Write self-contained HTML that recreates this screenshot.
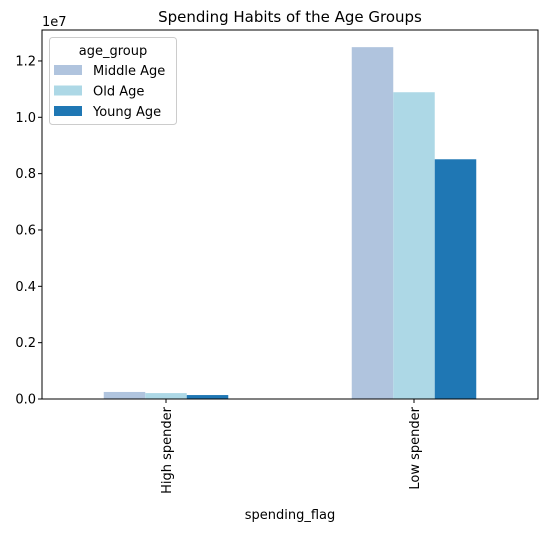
<!DOCTYPE html>
<html><head><meta charset="utf-8"><style>
body{margin:0;background:#fff;font-family:"Liberation Sans","DejaVu Sans",sans-serif;}
svg text{font-family:"DejaVu Sans","Liberation Sans",sans-serif;}
</style></head><body>
<svg id="chart" width="547" height="531" xmlns="http://www.w3.org/2000/svg">
<rect width="547" height="531" fill="#fff"/>
<g id="plot"></g>
</svg>
<script>
const categories=["High spender","Low spender"];
const seriesNames=["Middle Age","Old Age","Young Age"];
const middleAge=[250000,12490000];
const oldAge=[210000,10890000];
const youngAge=[140000,8510000];
const yTicks=[0,0.2,0.4,0.6,0.8,1.0,1.2];
const yTickLabels=["0.0","0.2","0.4","0.6","0.8","1.0","1.2"];
const colors=["#b0c4de","#add8e6","#1f77b4"];
const L=42,R=538,T=30,B=399;
const y=v=>B-(v/1e7)*281.7;
const groupW=(R-L)/categories.length;
const x=i=>L+groupW*(i+0.5);
const barW=41.5;
const ns="http://www.w3.org/2000/svg";
const g=document.getElementById('plot');
function mk(tag,attrs,text){const e=document.createElementNS(ns,tag);for(const k in attrs)e.setAttribute(k,attrs[k]);if(text!==undefined)e.textContent=text;g.appendChild(e);return e;}
const series=[middleAge,oldAge,youngAge];
series.forEach((s,si)=>{s.forEach((v,ci)=>{
 const r=mk('rect',{x:x(ci)+(si-1.5)*barW,y:y(v),width:barW,height:B-y(v),fill:colors[si]});
 
 
});});
const fr=mk('rect',{x:L,y:T,width:R-L,height:B-T,fill:'none',stroke:'#000','stroke-width':1});


yTicks.forEach((t,i)=>{
 mk('line',{x1:L-4,x2:L,y1:y(t*1e7),y2:y(t*1e7),stroke:'#000'});
 const tx=mk('text',{x:L-6,y:y(t*1e7)+4.5,'text-anchor':'end','font-size':13},yTickLabels[i]);
 
 
});
categories.forEach((c,i)=>{
 mk('line',{x1:x(i),x2:x(i),y1:B,y2:B+4,stroke:'#000'});
 const tx=mk('text',{transform:`translate(${x(i)+5},${B+8}) rotate(-90)`,'text-anchor':'end','font-size':13},c);
 
 
});
let e=mk('text',{x:42,y:26,'font-size':13},'1e7');


e=mk('text',{x:(L+R)/2,y:519,'text-anchor':'middle','font-size':13},'spending_flag');


e=mk('text',{x:(L+R)/2,y:22,'text-anchor':'middle','font-size':15},'Spending Habits of the Age Groups');


e=mk('rect',{x:49.5,y:37.5,width:127,height:87,rx:3,fill:'#fff',stroke:'#ccc'});


e=mk('text',{x:113,y:55,'text-anchor':'middle','font-size':13},'age_group');


seriesNames.forEach((n,i)=>{
 const r=mk('rect',{x:54,y:65+i*20.5,width:28,height:10,fill:colors[i]});
 
 
 const t=mk('text',{x:93,y:75+i*20.5,'font-size':13},n);
 
 
});
</script>
</body></html>
